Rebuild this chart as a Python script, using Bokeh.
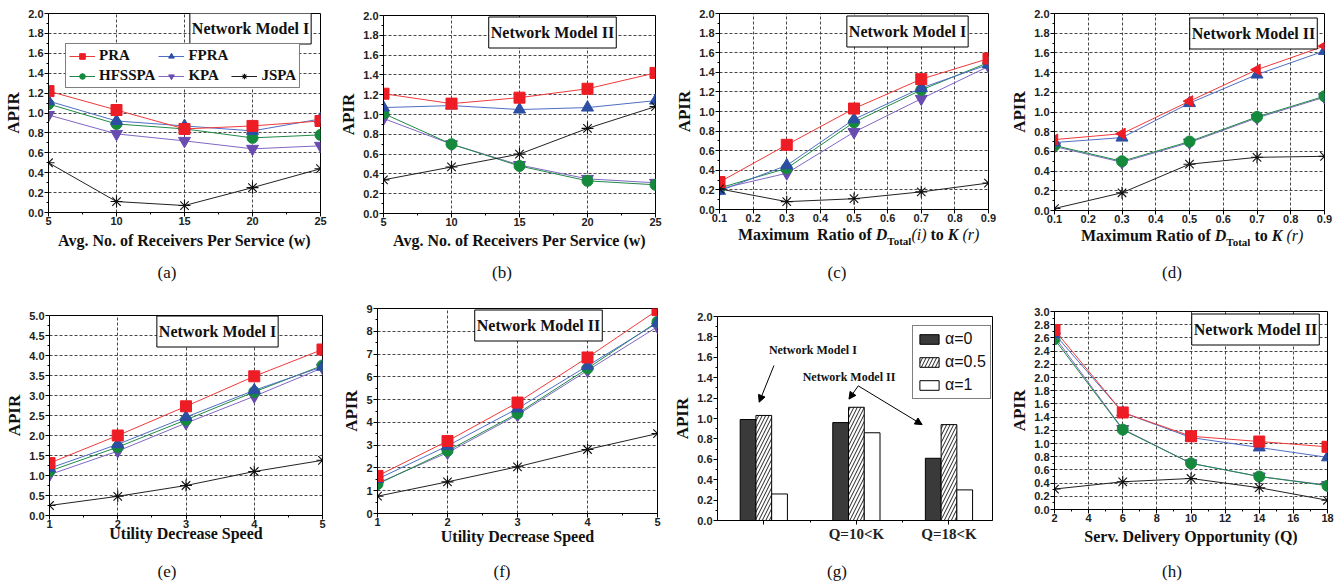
import math
from bokeh.plotting import figure
from bokeh.layouts import row, column
from bokeh.models import (Range1d, FixedTicker, PrintfTickFormatter, Label, Legend,
                          LegendItem, Arrow, NormalHead, Div)
from bokeh.embed import file_html
from bokeh.resources import INLINE

SERIES = ["PRA", "FPRA", "HFSSPA", "KPA", "JSPA"]

# (a) Network Model I, receivers per service
A_X = [5, 10, 15, 20, 25]
A_PRA = [1.22, 1.03, 0.84, 0.87, 0.92]
A_FPRA = [1.12, 0.92, 0.87, 0.82, 0.94]
A_HFSSPA = [1.09, 0.89, 0.84, 0.75, 0.78]
A_KPA = [0.98, 0.79, 0.72, 0.64, 0.67]
A_JSPA = [0.50, 0.11, 0.07, 0.25, 0.44]

# (b) Network Model II, receivers per service
B_X = [5, 10, 15, 20, 25]
B_PRA = [1.21, 1.11, 1.17, 1.26, 1.42]
B_FPRA = [1.07, 1.09, 1.05, 1.07, 1.14]
B_HFSSPA = [1.01, 0.70, 0.48, 0.33, 0.29]
B_KPA = [0.96, 0.70, 0.49, 0.35, 0.31]
B_JSPA = [0.34, 0.47, 0.60, 0.86, 1.08]

# (c) Network Model I, max ratio
C_X = [0.1, 0.3, 0.5, 0.7, 0.9]
C_PRA = [0.28, 0.66, 1.03, 1.33, 1.54]
C_FPRA = [0.19, 0.45, 0.92, 1.24, 1.48]
C_HFSSPA = [0.22, 0.42, 0.89, 1.22, 1.50]
C_KPA = [0.21, 0.37, 0.79, 1.13, 1.46]
C_JSPA = [0.21, 0.08, 0.11, 0.18, 0.27]

# (d) Network Model II, max ratio
D_X = [0.1, 0.3, 0.5, 0.7, 0.9]
D_PRA = [0.72, 0.78, 1.11, 1.43, 1.67]
D_FPRA = [0.69, 0.74, 1.09, 1.38, 1.62]
D_HFSSPA = [0.66, 0.50, 0.70, 0.95, 1.16]
D_KPA = [0.65, 0.49, 0.69, 0.94, 1.15]
D_JSPA = [0.02, 0.18, 0.47, 0.54, 0.55]

# (e) Network Model I, utility decrease speed
E_X = [1, 2, 3, 4, 5]
E_PRA = [1.31, 2.00, 2.73, 3.48, 4.15]
E_FPRA = [1.18, 1.78, 2.46, 3.13, 3.72]
E_HFSSPA = [1.11, 1.71, 2.39, 3.09, 3.75]
E_KPA = [1.02, 1.61, 2.31, 2.98, 3.69]
E_JSPA = [0.25, 0.48, 0.75, 1.10, 1.38]

# (f) Network Model II, utility decrease speed
F_X = [1, 2, 3, 4, 5]
F_PRA = [1.65, 3.18, 4.87, 6.85, 8.93]
F_FPRA = [1.51, 2.97, 4.61, 6.48, 8.37]
F_HFSSPA = [1.29, 2.75, 4.39, 6.37, 8.42]
F_KPA = [1.33, 2.67, 4.33, 6.28, 8.20]
F_JSPA = [0.76, 1.39, 2.05, 2.81, 3.51]

# (g) bars
G_GROUPS = ["", "Q=10<K", "Q=18<K"]
G_ALPHA = ["\u03b1=0", "\u03b1=0.5", "\u03b1=1"]
G_A0 = [0.99, 0.96, 0.61]
G_A05 = [1.03, 1.11, 0.94]
G_A1 = [0.26, 0.86, 0.30]

# (h) Network Model II, service delivery opportunity
H_X = [2, 6, 10, 14, 18]
H_PRA = [2.72, 1.47, 1.11, 1.03, 0.95]
H_FPRA = [2.66, 1.47, 1.09, 0.94, 0.79]
H_HFSSPA = [2.58, 1.21, 0.70, 0.50, 0.36]
H_KPA = [2.62, 1.22, 0.70, 0.50, 0.37]
H_JSPA = [0.31, 0.42, 0.47, 0.33, 0.14]

STYLE = {
    "PRA": dict(color="#ee1c24", line="#f03a3a", marker="square", size=11),
    "FPRA": dict(color="#2c4ea3", line="#4f6fc4", marker="triangle", size=12),
    "HFSSPA": dict(color="#158a3c", line="#1f8a45", marker="circle", size=11),
    "KPA": dict(color="#6a4cb0", line="#8068c4", marker="inverted_triangle", size=12),
    "JSPA": dict(color="#111111", line="#222222", marker="asterisk", size=12),
}
DRAW_ORDER = ["KPA", "HFSSPA", "FPRA", "PRA", "JSPA"]

SERIF = "Liberation Serif"
SANS = "Liberation Sans"
W = 335
CAP_X = 167


def base_fig(h, bl, br, bt, bb, xr, yr):
    p = figure(width=W, height=h, x_range=Range1d(*xr), y_range=Range1d(*yr),
               output_backend="svg", toolbar_location=None, title=None,
               min_border_left=bl, min_border_right=br,
               min_border_top=bt, min_border_bottom=bb, frame_align=False)
    p.outline_line_color = "black"
    p.outline_line_alpha = 1.0
    p.outline_line_width = 1
    p.background_fill_color = "white"
    p.border_fill_color = "white"
    return p


def style_axes(p, xt, xm, yt, ym, yfmt, xlabel, xfmt=None, grid=True, xl_standoff=2):
    for ax in (p.xaxis[0], p.yaxis[0]):
        ax.major_tick_out = 4
        ax.major_tick_in = 0
        ax.minor_tick_out = 2
        ax.minor_tick_in = 0
        ax.axis_line_color = "black"
        ax.major_tick_line_color = "black"
        ax.minor_tick_line_color = "black"
        ax.major_label_text_font = SANS
        ax.major_label_text_font_size = "11px"
        ax.major_label_text_font_style = "bold"
        ax.major_label_text_color = "#222222"
        ax.axis_label_text_font = SERIF
        ax.axis_label_text_font_style = "bold"
        ax.axis_label_text_color = "#111111"
    p.xaxis[0].major_label_standoff = 0
    p.yaxis[0].major_label_standoff = 1
    p.xaxis[0].ticker = FixedTicker(ticks=xt, minor_ticks=xm)
    p.yaxis[0].ticker = FixedTicker(ticks=yt, minor_ticks=ym)
    p.yaxis[0].formatter = PrintfTickFormatter(format=yfmt)
    if xfmt:
        p.xaxis[0].formatter = PrintfTickFormatter(format=xfmt)
    if xlabel:
        p.xaxis[0].axis_label = xlabel
    p.xaxis[0].axis_label_text_font_size = "16px"
    p.xaxis[0].axis_label_standoff = xl_standoff
    p.yaxis[0].axis_label = "APIR"
    p.yaxis[0].axis_label_text_font_size = "17px"
    p.yaxis[0].axis_label_standoff = 2
    if grid:
        for g in (p.xgrid[0], p.ygrid[0]):
            g.grid_line_color = "#333333"
            g.grid_line_dash = "3 2"
            g.grid_line_width = 1
            g.grid_line_alpha = 0.9
    else:
        p.xgrid[0].visible = False
        p.ygrid[0].visible = False


def draw_series(p, x, data, pra_marker=None):
    rends = {}
    for name in DRAW_ORDER:
        st = STYLE[name]
        ln = p.line(x, data[name], line_color=st["line"], line_width=1)
        marker = st["marker"]
        angle = 0.0
        if name == "PRA" and pra_marker:
            marker, angle = pra_marker
        if marker == "asterisk":
            sc = p.scatter(x, data[name], marker=marker, size=st["size"],
                           line_color=st["color"], line_width=1.1, fill_color=None)
        else:
            sc = p.scatter(x, data[name], marker=marker, size=st["size"], angle=angle,
                           fill_color=st["color"], line_color=st["color"], line_width=1)
        rends[name] = [ln, sc]
    return rends


def model_box(p, text, sx, sy):
    p.add_layout(Label(x=sx, y=sy, x_units="screen", y_units="screen", text=text,
                       text_align="center", text_baseline="middle",
                       text_font=SERIF, text_font_size="16px", text_font_style="bold",
                       text_color="#111111", background_fill_color="white",
                       border_line_color="black", border_line_width=1, padding=(2, 7)))


def cap_div(text, height, center_off, cx=CAP_X):
    html = ('<div style="width:%dpx;text-align:center;line-height:%dpx;'
            'font-family:\'Liberation Serif\';font-size:17px;color:#111;">%s</div>'
            % (2 * cx, 2 * center_off, text))
    return Div(text=html, width=W, height=height, margin=0)


def xlabel_div(html_label, height, left, lh):
    html = ('<div style="margin-left:%dpx;white-space:nowrap;line-height:%dpx;'
            'font-family:\'Liberation Serif\';font-size:16px;color:#111;">%s</div>'
            % (left, lh, html_label))
    return Div(text=html, width=W, height=height, margin=0)


def line_panel(h, bl, br, bt, bb, x, data, xr, yr, xt, xm, yt, ym, yfmt, xlabel,
               box, boxpos, xfmt=None, pra_marker=None, xl_standoff=2):
    p = base_fig(h, bl, br, bt, bb, xr, yr)
    style_axes(p, xt, xm, yt, ym, yfmt, xlabel, xfmt=xfmt, xl_standoff=xl_standoff)
    rends = draw_series(p, x, data, pra_marker)
    model_box(p, box, *boxpos)
    return p, rends


def pack(pra, fpra, hfsspa, kpa, jspa):
    return dict(PRA=pra, FPRA=fpra, HFSSPA=hfsspa, KPA=kpa, JSPA=jspa)


Y02 = [round(0.2 * i, 1) for i in range(11)]
Y02m = [round(0.1 + 0.2 * i, 1) for i in range(10)]
RX = [0.1, 0.2, 0.3, 0.4, 0.5, 0.6, 0.7, 0.8, 0.9]
XW_LABEL = "Avg. No. of Receivers Per Service (w)"

# Row 1 (300 px tall)
pa, ra = line_panel(252, 48, 15, 13, 40, A_X, pack(A_PRA, A_FPRA, A_HFSSPA, A_KPA, A_JSPA),
                    (5, 25), (0, 2.0), A_X, [7.5, 12.5, 17.5, 22.5], Y02, Y02m, "%.1f",
                    XW_LABEL, "Network Model I", (202, 184), xl_standoff=4)
dummy = pa.scatter(x=[], y=[], marker="circle", size=1, fill_alpha=0, line_alpha=0)
items = [LegendItem(label="PRA", renderers=ra["PRA"]),
         LegendItem(label="FPRA", renderers=ra["FPRA"]),
         LegendItem(label=" ", renderers=[dummy]),
         LegendItem(label="HFSSPA", renderers=ra["HFSSPA"]),
         LegendItem(label="KPA", renderers=ra["KPA"]),
         LegendItem(label="JSPA", renderers=ra["JSPA"])]
leg = Legend(items=items, location=(17, 124), orientation="horizontal", ncols=3,
             label_text_font=SERIF, label_text_font_size="15px", label_text_font_style="bold",
             label_text_color="#111111", glyph_width=26, glyph_height=14, spacing=3,
             padding=3, margin=0, label_standoff=4, label_height=16,
             border_line_color="black", border_line_width=1, background_fill_color="white",
             background_fill_alpha=1.0)
pa.add_layout(leg, "center")
col_a = column(pa, cap_div("(a)", 48, 21))

pb, _ = line_panel(253, 48, 15, 15, 40, B_X, pack(B_PRA, B_FPRA, B_HFSSPA, B_KPA, B_JSPA),
                   (5, 25), (0, 2.0), B_X, [7.5, 12.5, 17.5, 22.5], Y02, Y02m, "%.1f",
                   XW_LABEL, "Network Model II", (169, 181), xl_standoff=3)
col_b = column(pb, cap_div("(b)", 47, 20))

pc, _ = line_panel(226, 49, 17, 13, 17, C_X, pack(C_PRA, C_FPRA, C_HFSSPA, C_KPA, C_JSPA),
                   (0.1, 0.9), (0, 2.0), RX, [], Y02, Y02m, "%.1f", None,
                   "Network Model I", (188, 178), xfmt="%.1f")
C_XLABEL = ('<b>Maximum&nbsp;&nbsp;Ratio of <i>D</i>'
            '<span style="font-size:11px;vertical-align:-5px;">Total</span></b>'
            '<i>(i)</i> <b>to <i>K</i></b> <i>(r)</i>')
col_c = column(pc, xlabel_div(C_XLABEL, 22, 68, 17), cap_div("(c)", 52, 25))

pd_, _ = line_panel(227, 49, 16, 13, 17, D_X, pack(D_PRA, D_FPRA, D_HFSSPA, D_KPA, D_JSPA),
                    (0.1, 0.9), (0, 2.0), RX, [], Y02, Y02m, "%.1f", None,
                    "Network Model II", (199, 177), xfmt="%.1f",
                    pra_marker=("triangle", math.pi / 2))
D_XLABEL = ('<b>Maximum Ratio of <i>D</i>'
            '<span style="font-size:11px;vertical-align:-5px;">Total</span></b>'
            ' <b>to <i>K</i></b> <i>(r)</i>')
col_d = column(pd_, xlabel_div(D_XLABEL, 22, 76, 17), cap_div("(d)", 51, 24))

# Row 2 (286 px tall)
pe, _ = line_panel(245, 49, 13, 15, 30, E_X, pack(E_PRA, E_FPRA, E_HFSSPA, E_KPA, E_JSPA),
                   (1, 5), (0, 5.0), E_X, [1.5, 2.5, 3.5, 4.5],
                   [round(0.5 * i, 1) for i in range(11)],
                   [round(0.25 + 0.5 * i, 2) for i in range(10)], "%.1f",
                   "Utility Decrease Speed", "Network Model I", (168, 184), xl_standoff=-6)
col_e = column(pe, cap_div("(e)", 41, 27))

pf, _ = line_panel(248, 42, 13, 8, 35, F_X, pack(F_PRA, F_FPRA, F_HFSSPA, F_KPA, F_JSPA),
                   (1, 5), (0, 9), F_X, [1.5, 2.5, 3.5, 4.5], list(range(10)),
                   [0.5 + i for i in range(9)], "%d",
                   "Utility Decrease Speed", "Network Model II", (161, 188), xl_standoff=-1)
col_f = column(pf, cap_div("(f)", 38, 24))

pg = base_fig(244, 46, 13, 16, 23, (0.5, 3.47), (0, 2.0))
style_axes(pg, [1, 2, 3], [1.5, 2.5], Y02, Y02m, "%.1f", None, grid=False)
pg.xaxis[0].major_label_overrides = {1: G_GROUPS[0], 2: G_GROUPS[1], 3: G_GROUPS[2]}
pg.xaxis[0].major_label_text_font = SERIF
pg.xaxis[0].major_label_text_font_size = "15px"
pg.xaxis[0].major_label_text_font_style = "bold"
pg.xaxis[0].major_label_standoff = 1
gx = [i + 1 for i in range(len(G_GROUPS))]
BW = 0.17
r0 = pg.vbar(x=[v - BW for v in gx], top=G_A0, width=BW, fill_color="#3a3a3a",
             line_color="black", line_width=1)
r1 = pg.vbar(x=gx, top=G_A05, width=BW, fill_color="white", line_color="black",
             line_width=1, hatch_pattern="/", hatch_color="#222222", hatch_scale=7,
             hatch_weight=1)
r2 = pg.vbar(x=[v + BW for v in gx], top=G_A1, width=BW, fill_color="white",
             line_color="black", line_width=1)
gleg = Legend(items=[LegendItem(label=G_ALPHA[0], renderers=[r0]),
                     LegendItem(label=G_ALPHA[1], renderers=[r1]),
                     LegendItem(label=G_ALPHA[2], renderers=[r2])],
              location=(195, 121), label_text_font=SANS, label_text_font_size="16px",
              label_text_color="#111111", glyph_width=24, glyph_height=12, spacing=5,
              padding=4, margin=0, label_standoff=4, border_line_color="black",
              border_line_width=1, background_fill_color="white")
pg.add_layout(gleg, "center")
for txt, lx, ly in [("Network Model I", 1.53, 1.67), ("Network Model II", 1.92, 1.405)]:
    pg.add_layout(Label(x=lx, y=ly, text=txt, text_align="center", text_baseline="middle",
                        text_font=SERIF, text_font_size="12px", text_font_style="bold",
                        text_color="#111111"))
for xs, ys, xe, ye in [(1.11, 1.52, 0.95, 1.16), (2.02, 1.32, 1.92, 1.19),
                       (2.02, 1.32, 2.71, 0.94)]:
    pg.add_layout(Arrow(x_start=xs, y_start=ys, x_end=xe, y_end=ye, line_color="black",
                        line_width=1,
                        end=NormalHead(size=7, fill_color="black", line_color="black")))
col_g = column(pg, cap_div("(g)", 42, 28))

ph, _ = line_panel(248, 49, 13, 11, 39, H_X, pack(H_PRA, H_FPRA, H_HFSSPA, H_KPA, H_JSPA),
                   (2, 18), (0, 3.0), list(range(2, 19, 2)), list(range(3, 18, 2)),
                   [round(0.2 * i, 1) for i in range(16)],
                   [round(0.1 + 0.2 * i, 1) for i in range(15)], "%.1f",
                   "Serv. Delivery Opportunity (Q)", "Network Model II", (201, 180),
                   xl_standoff=3)
col_h = column(ph, cap_div("(h)", 38, 24))

layout = column(row(col_a, col_b, col_c, col_d), row(col_e, col_f, col_g, col_h))
open("out.html", "w").write(file_html(layout, INLINE))
